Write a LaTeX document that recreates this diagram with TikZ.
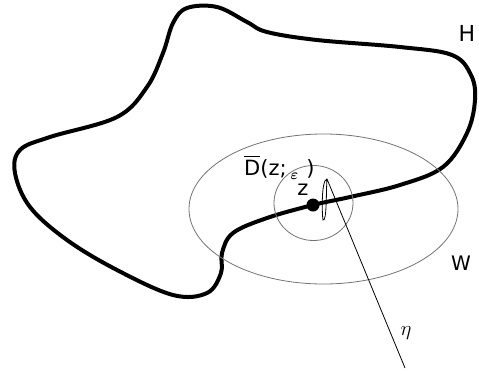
\documentclass[tikz,border=0pt]{standalone}
\usepackage{amsmath, bm}
\usepackage{fontspec}
\setmainfont{DejaVu Sans}
\usepackage{tikz}
\usetikzlibrary{positioning}
\begin{document}
\begin{tikzpicture}[x=1pt,y=-1pt,
  boundary/.style={line width=4pt, line join=round},
  thinline/.style={line width=0.8pt, black!55},
  lbl/.style={font=\fontsize{21}{23}\selectfont, inner sep=0pt}]
  \useasboundingbox (0,0) rectangle (479,373);
  % region H
  \draw[boundary] plot[smooth cycle, tension=0.6] coordinates {
    (313,205) (350,197) (400,185) (443,167) (467,133) (475,100) (471,75)
    (452,55) (400,47) (317,40) (267,32) (247,22) (217,7) (187,8) (173,23)
    (163,53) (147,87) (117,117) (50,137) (20,150) (15,173) (30,207)
    (67,240) (117,270) (173,295) (207,293) (221,273) (222,253) (233,233) (267,218)};
  % W and the closed disc
  \draw[thinline] (323.5,209) ellipse [x radius=134.5, y radius=75];
  \draw[thinline] (313.5,203) ellipse [x radius=39.5, y radius=37.5];
  % curve eta
  \coordinate (etaend) at (405,368);
  \coordinate (etatop) at (327,179);
  \draw[line width=0.8pt] (etaend) -- (etatop)
    .. controls (321,180) and (322,215) .. (323,220)
    .. controls (327,222) and (326,190) .. (327,179);
  \node[circle, fill=black, inner sep=0pt, minimum size=13pt] (z) at (313,205) {};
  \node[lbl] (zlbl) at (303,190) {z};
  \node[lbl, anchor=base west] (dlbl) at (244,175) {$\overline{\mbox{D}}$(z;\hspace{4pt}{\fontsize{15}{15}\selectfont\raisebox{-4pt}{$\bm{\varepsilon}$}}\hspace{8pt})};
  \node[lbl, font=\fontsize{22}{24}\selectfont] (hlbl) at (467,33) {H};
  \node[lbl, font=\fontsize{20}{22}\selectfont] (wlbl) at (461,263) {W};
  \node[lbl, font=\fontsize{20}{22}\selectfont] (etalbl) at (406,333) {$\eta$};
\end{tikzpicture}
\end{document}
